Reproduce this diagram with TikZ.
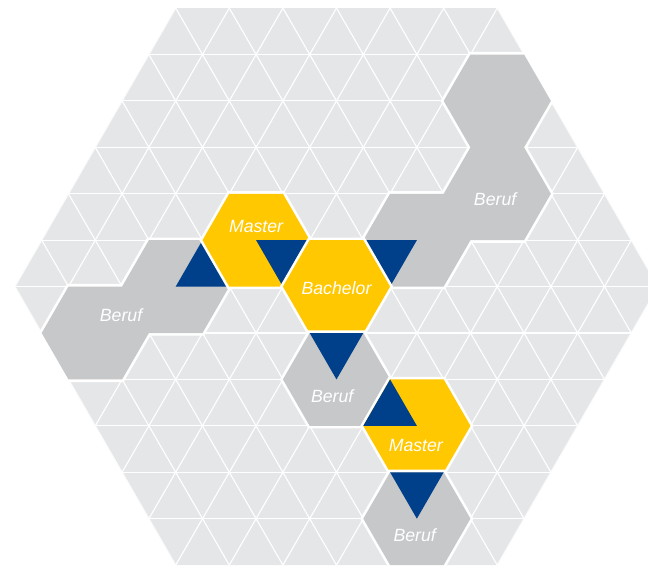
\documentclass[tikz,border=0pt]{standalone}
\usepackage{fontspec}
\setsansfont{Liberation Sans}
\definecolor{gridgrey}{HTML}{E5E6E8}
\definecolor{berufgrey}{HTML}{C7C8CA}
\definecolor{mastergold}{HTML}{FFC800}
\definecolor{stepblue}{HTML}{003F8A}
\begin{document}
\begin{tikzpicture}[
  gridline/.style={draw=white,line width=0.6pt},
  halo/.style={draw=white,line width=2.8pt,line join=miter},
  tiletext/.style={text=white,inner sep=0pt,font=\fontsize{9.4}{11}\selectfont\sffamily\itshape}]

% triangle side and row height:
\pgfmathsetmacro\R{1}
\pgfmathsetmacro\H{0.866*\R}
% picture frame:
\useasboundingbox (-6.278,-5.231) rectangle (5.812,5.347);
\clip (-6.278,-5.231) rectangle (5.812,5.347);

\newcommand{\hexcell}[2]{
  \path[#1] (0:#2)--(60:#2)--(120:#2)--(180:#2)--(240:#2)--(300:#2)--cycle
}
% one hexagonal tile group: #1 colour, #2 centres x/row
\newcommand{\tilegroup}[2]{
  \draw[halo] \foreach \cx/\cy in {#2} {
    (\cx*\R+\R,\cy*\H) -- ++(120:\R) -- ++(180:\R) -- ++(240:\R)
      -- ++(300:\R) -- ++(0:\R) -- cycle
  };
  \fill[#1] \foreach \cx/\cy in {#2} {
    (\cx*\R+\R,\cy*\H) -- ++(120:\R) -- ++(180:\R) -- ++(240:\R)
      -- ++(300:\R) -- ++(0:\R) -- cycle
  };
}
% blue triangle of a tile: centre x/row, two corner angles
\newcommand{\stepcell}[4]{
  \begin{scope}[shift={(#1*\R,#2*\H)}]
    \fill[stepblue] (0,0)--(#3:\R)--(#4:\R)--cycle;
  \end{scope}
}

% background grid:
\hexcell{fill=gridgrey}{6*\R};
\begin{scope}
  \clip (0:6*\R)--(60:6*\R)--(120:6*\R)--(180:6*\R)--(240:6*\R)--(300:6*\R)--cycle;
  \foreach \row in {-5,...,5}
    \draw[gridline] (-7,\row*\H) -- (7,\row*\H);
  \foreach \col in {-12,...,12} {
    \draw[gridline] (\col*\R,0) ++(240:7) -- ++(60:14);
    \draw[gridline] (\col*\R,0) ++(300:7) -- ++(120:14);
  }
\end{scope}

% tiles:
\tilegroup{berufgrey}{3/4,3/2,1.5/1}
\stepcell{1.5}{1}{180}{240}
\tilegroup{berufgrey}{-4.5/-1,-3/0}
\stepcell{-3}{0}{0}{60}
\tilegroup{mastergold}{-1.5/1}
\stepcell{-1.5}{1}{0}{300}
\tilegroup{mastergold}{0/0}
\tilegroup{berufgrey}{0/-2}
\stepcell{0}{-2}{60}{120}
\tilegroup{mastergold}{1.5/-3}
\stepcell{1.5}{-3}{120}{180}
\tilegroup{berufgrey}{1.5/-5}
\stepcell{1.5}{-5}{60}{120}

% labels:
\node[tiletext] (master1) at (-1.5,1.13) {Master};
\node[tiletext] (bachelor) at (0,-0.03) {Bachelor};
\node[tiletext] (beruf1) at (2.96,1.63) {Beruf};
\node[tiletext] (beruf2) at (-4.02,-0.53) {Beruf};
\node[tiletext] (beruf3) at (-0.08,-2.05) {Beruf};
\node[tiletext] (master2) at (1.48,-2.97) {Master};
\node[tiletext] (beruf4) at (1.46,-4.63) {Beruf};

\end{tikzpicture}
\end{document}
